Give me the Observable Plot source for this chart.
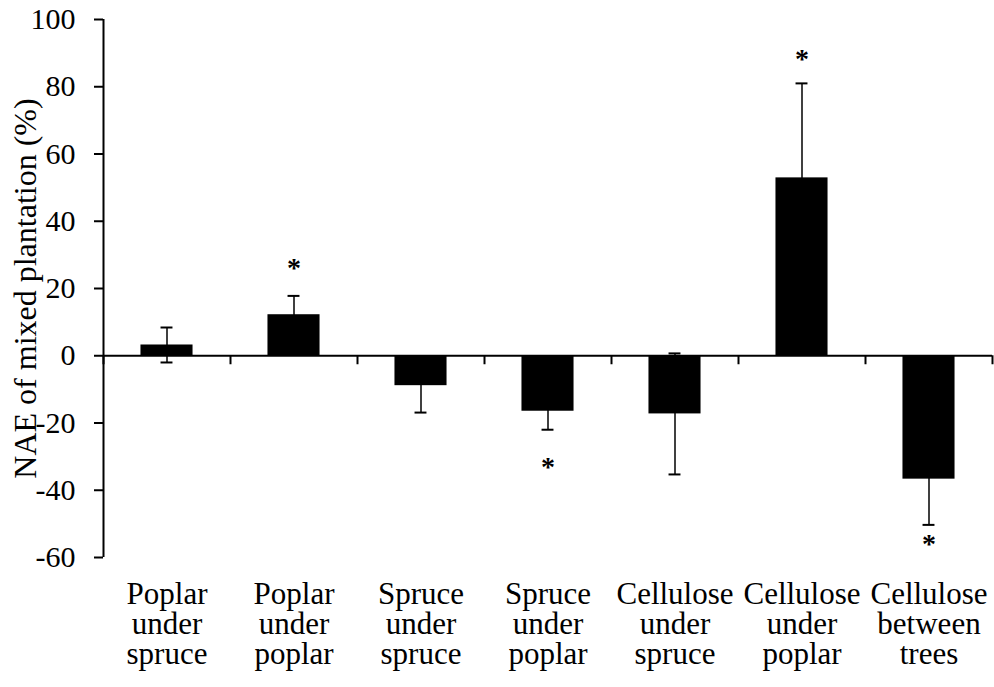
<!DOCTYPE html>
<html><head><meta charset="utf-8">
<script src="https://cdn.jsdelivr.net/npm/d3@7"></script>
<script src="https://cdn.jsdelivr.net/npm/@observablehq/plot@0.6"></script>
<style>
body{margin:0;background:#fff}
svg, svg text{font-family:"Liberation Serif","Times New Roman",Times,"Nimbus Roman","DejaVu Serif",serif !important;}
</style>
</head><body><div id="chart"></div>
<script>
const categories = [
  "Poplar\nunder\nspruce",
  "Poplar\nunder\npoplar",
  "Spruce\nunder\nspruce",
  "Spruce\nunder\npoplar",
  "Cellulose\nunder\nspruce",
  "Cellulose\nunder\npoplar",
  "Cellulose\nbetween\ntrees"
];
const values = [3.2, 12.2, -8.9, -16.5, -17.3, 52.9, -36.7];
const errors = [5.2, 5.6, 8.0, 5.5, 18.0, 28.1, 13.6];
const stars = [null, 27.4, null, -32, null, 89.5, -54.7];
const yTicks = [-60, -40, -20, 0, 20, 40, 60, 80, 100];
const yLabel = "NAE of mixed plantation (%)";

const data = categories.map((c, i) => ({c, i, pos: i + 0.5, v: values[i], e: errors[i], star: stars[i]}));
const barHalf = 0.205, capHalf = 0.047;
const font = "Liberation Serif, Times New Roman, Times, DejaVu Serif, serif";

const chart = Plot.plot({
  width: 994, height: 687,
  marginLeft: 103, marginRight: 2, marginTop: 19, marginBottom: 130,
  style: {background: "white", color: "black"},
  x: {domain: [0, 7], axis: null},
  y: {domain: [-60, 100], axis: null},
  marks: [
    Plot.axisY({ticks: yTicks, tickSize: 9, tickPadding: 19, fontSize: 30, fontFamily: font, tickFormat: d => String(d), strokeWidth: 2, label: null}),
    Plot.axisX(data.map(d => d.pos), {tickSize: 0, tickPadding: 25, fontSize: 31, fontFamily: font, tickFormat: d => categories[Math.floor(d)], lineHeight: 0.97, label: null}),
    Plot.ruleX([0], {stroke: "black", strokeWidth: 2}),
    Plot.ruleX(d3.range(8), {x: d => d, y1: 0, y2: 0, insetBottom: -9, strokeWidth: 2}),
    Plot.ruleX(data, {x: "pos", y1: d => d.v - d.e, y2: d => d.v + d.e, strokeWidth: 1.5}),
    Plot.ruleY(data, {y: d => d.v + d.e, x1: d => d.pos - capHalf, x2: d => d.pos + capHalf, strokeWidth: 2}),
    Plot.ruleY(data, {y: d => d.v - d.e, x1: d => d.pos - capHalf, x2: d => d.pos + capHalf, strokeWidth: 2}),
    Plot.rectY(data, {x1: d => d.pos - barHalf, x2: d => d.pos + barHalf, y1: 0, y2: "v", fill: "black"}),
    Plot.ruleY([0], {strokeWidth: 2}),
    Plot.text(data.filter(d => d.star != null), {x: "pos", y: "star", text: () => "*", fontSize: 28, fontFamily: font, fontWeight: "bold", lineAnchor: "bottom", dy: 13}),
    Plot.text([yLabel], {frameAnchor: "left", textAnchor: "middle", rotate: -90, dx: -78, fontSize: 32, fontFamily: font, text: d => d})
  ]
});
document.getElementById("chart").append(chart);
</script>
</body></html>
